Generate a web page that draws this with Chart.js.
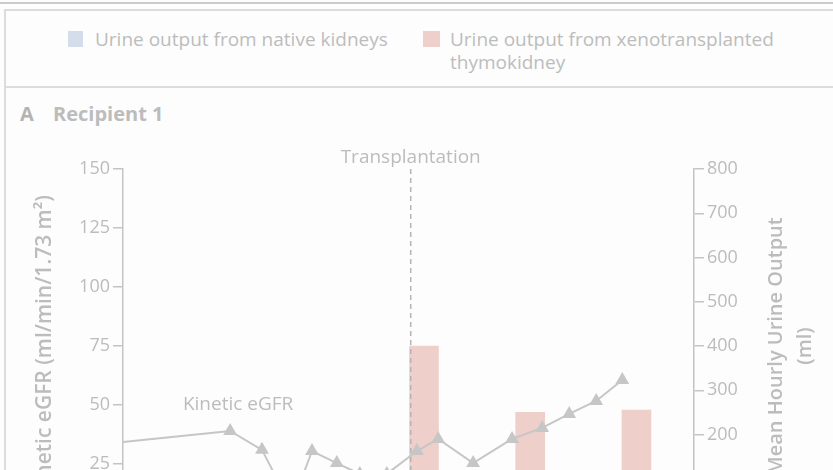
<!DOCTYPE html>
<html>
<head>
<meta charset="utf-8">
<script src="https://cdn.jsdelivr.net/npm/chart.js@4.4.1/dist/chart.umd.min.js"></script>
<style>
  body {
    margin: 0;
    width: 833px;
    height: 470px;
    overflow: hidden;
    position: relative;
    background: #fdfdfd;
    font-family: "Open Sans", sans-serif;
    color: #bcbcbc;
  }
  .rule { position: absolute; left: 0; width: 833px; top: 2px; height: 2px; background: #cbcbcb; }
  .box { position: absolute; left: 4px; top: 9px; width: 900px; height: 75px; border: 2px solid #dcdcdc; }
  .panel { position: absolute; left: 4px; top: 86px; height: 500px; border-left: 2px solid #dcdcdc; }
  .swatch { position: absolute; width: 15px; height: 16px; }
  .label { position: absolute; font-size: 19px; line-height: 23px; white-space: nowrap; }
  .panel-title { position: absolute; top: 101px; font-size: 20px; font-weight: 700; line-height: 26px; }
  canvas { position: absolute; left: 0; top: 0; }
</style>
</head>
<body>
<div class="rule"></div>
<div class="box"></div>
<div class="panel"></div>

<span class="swatch" style="left:68px;top:31px;background:#d4deea"></span>
<span class="label" style="left:95px;top:28px">Urine output from native kidneys</span>
<span class="swatch" style="left:423px;top:31px;width:17px;background:#efcfc9"></span>
<span class="label" style="left:450px;top:28px">Urine output from xenotransplanted<br>thymokidney</span>

<span class="panel-title" style="left:20px;color:#b3b3b3">A</span>
<span class="panel-title" style="left:53px">Recipient 1</span>

<canvas id="myChart" width="833" height="600"></canvas>

<script>
// hours relative to transplantation
const egfrHours = [-72, -40.8, -33.6, -27, -22.3, -16.7, -11.5, -5.4, 1.4, 6.2, 14.1, 22.9, 29.7, 35.8, 41.9, 47.8];
const egfrValues = [33, 39, 31, 7, 30.5, 25.4, 20.8, 20.8, 30.5, 35.6, 25.4, 35.6, 40.3, 46.2, 51.7, 60.6];

// mean hourly urine output per day from the graft (ml)
const urineHours = [3, 27, 51];
const xenoUrine = [400, 250, 255];

const transplantHour = 0;
const egfrLabelAt = { x: -39, y: 50 };

const egfrAxis = { min: 0, max: 150, step: 25 };
const urineAxis = { min: 0, max: 800, step: 100 };

const textGray = '#bcbcbc';
const axisGray = '#c4c4c4';

// dashed transplant marker, its caption, the series label and the right-hand title
const annotations = {
    id: 'annotations',
    afterDatasetsDraw(chart) {
        const { ctx, chartArea, scales } = chart;
        const x0 = scales.x.getPixelForValue(transplantHour);

        ctx.save();
        ctx.strokeStyle = '#b4b4b4';
        ctx.lineWidth = 1.5;
        ctx.setLineDash([5, 4]);
        ctx.beginPath();
        ctx.moveTo(x0, chartArea.top);
        ctx.lineTo(x0, chartArea.bottom);
        ctx.stroke();
        ctx.setLineDash([]);

        ctx.fillStyle = textGray;
        ctx.font = '19px "Open Sans"';
        ctx.textAlign = 'center';
        ctx.textBaseline = 'middle';
        ctx.fillText('Transplantation', x0, chartArea.top - 11);

        ctx.fillText('Kinetic eGFR',
            scales.x.getPixelForValue(egfrLabelAt.x),
            scales.y.getPixelForValue(egfrLabelAt.y));

        // right axis title reads bottom-to-top, like the left one
        const midY = (chartArea.top + chartArea.bottom) / 2;
        ctx.font = '600 20px "Open Sans"';
        ctx.translate(776, midY);
        ctx.rotate(-Math.PI / 2);
        ctx.fillText('Mean Hourly Urine Output', 0, 0);
        ctx.fillText('(ml)', 0, 29);
        ctx.restore();
    }
};

function getChart() {
    const ctx = document.getElementById('myChart');

    new Chart(ctx, {
        type: 'bar',
        data: {
            datasets: [{
                type: 'line',
                label: 'Kinetic eGFR',
                data: egfrHours.map((h, i) => ({ x: h, y: egfrValues[i] })),
                yAxisID: 'y',
                borderColor: '#c6c6c6',
                borderWidth: 2,
                pointStyle: 'triangle',
                pointRadius: 8,
                pointBackgroundColor: '#c6c6c6',
                pointBorderWidth: 0,
                tension: 0,
                order: 1
            }, {
                type: 'bar',
                label: 'Urine output from xenotransplanted thymokidney',
                data: urineHours.map((h, i) => ({ x: h, y: xenoUrine[i] })),
                yAxisID: 'y2',
                backgroundColor: '#efcfc9',
                barThickness: 29,
                order: 2
            }]
        },
        options: {
            responsive: false,
            animation: false,
            layout: { padding: { top: 169, bottom: 77, left: 0, right: 0 } },
            plugins: {
                legend: { display: false },
                tooltip: { enabled: false }
            },
            scales: {
                x: {
                    type: 'linear',
                    min: -65,
                    max: 64,
                    offset: false,
                    display: false
                },
                y: {
                    position: 'left',
                    min: egfrAxis.min,
                    max: egfrAxis.max,
                    ticks: {
                        stepSize: egfrAxis.step,
                        color: textGray,
                        font: { family: 'Open Sans', size: 18 },
                        padding: 3
                    },
                    grid: { drawOnChartArea: false, tickLength: 10, color: axisGray, lineWidth: 1.5 },
                    border: { color: axisGray, width: 1.5 },
                    title: {
                        display: true,
                        text: 'Kinetic eGFR (ml/min/1.73 m²)',
                        color: textGray,
                        font: { family: 'Open Sans', size: 21, weight: '600' },
                        padding: { top: 32, bottom: 0 }
                    },
                    afterFit(scale) { scale.width = 123; }
                },
                y2: {
                    position: 'right',
                    min: urineAxis.min,
                    max: urineAxis.max,
                    ticks: {
                        stepSize: urineAxis.step,
                        color: textGray,
                        font: { family: 'Open Sans', size: 18 },
                        padding: 3
                    },
                    grid: { drawOnChartArea: false, tickLength: 10, color: axisGray, lineWidth: 1.5 },
                    border: { color: axisGray, width: 1.5 },
                    afterFit(scale) { scale.width = 139; }
                }
            }
        },
        plugins: [annotations]
    });
}

getChart();
</script>
</body>
</html>
